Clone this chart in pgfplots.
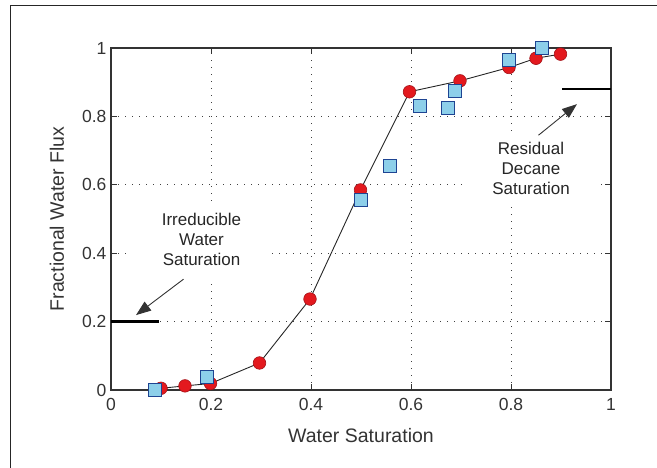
\documentclass[border=0pt]{standalone}
\usepackage{pgfplots}
\pgfplotsset{compat=1.18}
\usepackage{fontspec}
\setmainfont{Liberation Sans}
\usetikzlibrary{arrows.meta}
\definecolor{redfill}{HTML}{E3191E}
\definecolor{rededge}{HTML}{A5141A}
\definecolor{bluefill}{HTML}{8DCFEA}
\definecolor{blueedge}{HTML}{1E4492}
\definecolor{axgray}{HTML}{333333}
\begin{document}
\begin{tikzpicture}
\useasboundingbox (0,0) rectangle (657pt,468pt);
\draw[line width=1pt, black!85] (10pt,0pt) -- (10pt,462pt) -- (657pt,462pt);
\begin{axis}[
  at={(111pt,78pt)}, anchor=south west,
  scale only axis, width=500pt, height=342pt,
  xmin=0, xmax=1, ymin=0, ymax=1,
  xtick={0,0.2,0.4,0.6,0.8,1}, ytick={0,0.2,0.4,0.6,0.8,1},
  xticklabels={0,0.2,0.4,0.6,0.8,1}, yticklabels={0,0.2,0.4,0.6,0.8,1},
  tick align=inside, major tick length=6pt,
  tick style={axgray, line width=0.9pt},
  axis line style={axgray, line width=1.1pt},
  grid=major,
  major grid style={black!75, line width=0.9pt, dash pattern=on 1pt off 6pt},
  ticklabel style={font=\fontsize{17.5}{20}\selectfont, text=black!80},
  /pgf/number format/assume math mode=true,
  xticklabel style={yshift=-5pt},
  yticklabel style={xshift=-1pt},
  xlabel={Water Saturation},
  ylabel={Fractional Water Flux},
  label style={font=\fontsize{19.5}{22}\selectfont, text=black!80},
  xlabel style={at={(axis description cs:0.5,-0.1345)}, anchor=center},
  ylabel style={at={(axis description cs:-0.108,0.5)}, anchor=center, rotate=0},
  clip=false,
]
% white boxes for annotations (hide grid)
\node[fill=white, align=center, inner xsep=30pt, inner ysep=12pt,
      font=\fontsize{17}{20}\selectfont, text=black!85]
      at (axis cs:0.181,0.439) {Irreducible\\Water\\Saturation};
\node[fill=white, align=center, inner xsep=28pt, inner ysep=11pt,
      font=\fontsize{17}{20}\selectfont, text=black!85]
      at (axis cs:0.84,0.649) {Residual\\Decane\\Saturation};
% end-point markers
\addplot[black, line width=2.6pt, forget plot] coordinates {(0,0.2) (0.096,0.2)};
\addplot[black, line width=2.6pt, forget plot] coordinates {(0.902,0.88) (1,0.88)};
% arrows
\draw[black!80, line width=0.9pt, -{Triangle[length=15pt,width=11pt]}]
  (axis cs:0.145,0.324) -- (axis cs:0.05,0.219);
\draw[black!80, line width=0.9pt, -{Triangle[length=15pt,width=11pt]}]
  (axis cs:0.855,0.745) -- (axis cs:0.932,0.836);
% model line
\addplot[black!85, line width=0.9pt] coordinates {
(0.1,0.005) (0.148,0.012) (0.199,0.019) (0.297,0.079) (0.398,0.266) (0.499,0.585)
(0.597,0.872) (0.698,0.904) (0.796,0.943) (0.85,0.970) (0.899,0.982)};
% red circles
\addplot[only marks, mark=*, mark size=6.3pt, mark options={fill=redfill, draw=rededge, line width=0.6pt}] coordinates {
(0.1,0.005) (0.148,0.012) (0.199,0.019) (0.297,0.079) (0.398,0.266) (0.499,0.585)
(0.597,0.872) (0.698,0.904) (0.796,0.943) (0.85,0.970) (0.899,0.982)};
% blue squares
\addplot[only marks, mark=square*, mark size=6.5pt, mark options={fill=bluefill, draw=blueedge, line width=0.9pt}] coordinates {
(0.088,0.0) (0.192,0.037) (0.499,0.557) (0.557,0.655) (0.617,0.830)
(0.673,0.825) (0.687,0.874) (0.796,0.965) (0.862,1.0)};
\end{axis}
\end{tikzpicture}
\end{document}
